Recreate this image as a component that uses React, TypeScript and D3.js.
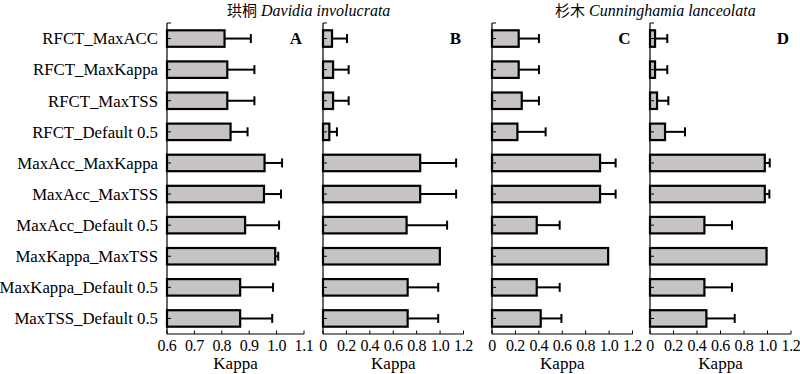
import React from "react";
import * as d3 from "d3";

const categories = [
  "RFCT_MaxACC",
  "RFCT_MaxKappa",
  "RFCT_MaxTSS",
  "RFCT_Default 0.5",
  "MaxAcc_MaxKappa",
  "MaxAcc_MaxTSS",
  "MaxAcc_Default 0.5",
  "MaxKappa_MaxTSS",
  "MaxKappa_Default 0.5",
  "MaxTSS_Default 0.5",
];

const meanA = [0.81, 0.82, 0.82, 0.832, 0.956, 0.954, 0.885, 0.995, 0.867, 0.867];
const errA = [0.906, 0.919, 0.919, 0.894, 1.02, 1.016, 1.009, 1.006, 0.987, 0.984];
const meanB = [0.077, 0.086, 0.086, 0.054, 0.83, 0.83, 0.714, 0.998, 0.723, 0.723];
const errB = [0.205, 0.219, 0.219, 0.119, 1.137, 1.137, 1.06, 1.0, 0.984, 0.984];
const meanC = [0.228, 0.228, 0.254, 0.217, 0.923, 0.923, 0.382, 0.992, 0.382, 0.416];
const errC = [0.401, 0.401, 0.401, 0.458, 1.056, 1.056, 0.578, 0.992, 0.578, 0.593];
const meanD = [0.043, 0.043, 0.06, 0.128, 0.977, 0.977, 0.463, 0.992, 0.463, 0.48];
const errD = [0.147, 0.147, 0.156, 0.298, 1.019, 1.016, 0.698, 0.992, 0.698, 0.721];

const ticksA = [0.6, 0.7, 0.8, 0.9, 1.0, 1.1];
const ticksB = [0, 0.2, 0.4, 0.6, 0.8, 1.0, 1.2];

const titleLeft = "珙桐";
const titleLeftLatin = "Davidia involucrata";
const titleRight = "杉木";
const titleRightLatin = "Cunninghamia lanceolata";
const xLabel = "Kappa";

const panels = [
  { letter: "A", mean: meanA, err: errA, domain: [0.6, 1.1], ticks: ticksA, x0: 167, x1: 304 },
  { letter: "B", mean: meanB, err: errB, domain: [0, 1.2], ticks: ticksB, x0: 323, x1: 463.5 },
  { letter: "C", mean: meanC, err: errC, domain: [0, 1.2], ticks: ticksB, x0: 492, x1: 632.5 },
  { letter: "D", mean: meanD, err: errD, domain: [0, 1.2], ticks: ticksB, x0: 650, x1: 791 },
];

const SERIF = "Liberation Serif, Times New Roman, serif";
const CJK = "Noto Sans CJK SC, sans-serif";

function fmt(v: number) {
  if (v === 0) return "0";
  return v.toFixed(1);
}

export default function App() {
  const yTop = 23;
  const yBottom = 334;
  const y = d3
    .scaleBand<string>()
    .domain(categories)
    .range([yTop, yBottom])
    .paddingInner(0.47)
    .paddingOuter(0.235);
  const bw = y.bandwidth();

  return (
    <svg width={800} height={374} style={{ position: "absolute", left: 0, top: 0, background: "#fff" }}>
      <rect x={0} y={0} width={800} height={374} fill="#fff" />
      <text x={227} y={16} fontSize={15} fill="#000">
        <tspan fontFamily={CJK}>{titleLeft}</tspan>
        <tspan fontFamily={SERIF} fontStyle="italic" fontSize={16}> {titleLeftLatin}</tspan>
      </text>
      <text x={555} y={16} fontSize={15} fill="#000">
        <tspan fontFamily={CJK}>{titleRight}</tspan>
        <tspan fontFamily={SERIF} fontStyle="italic" fontSize={16}> {titleRightLatin}</tspan>
      </text>
      {categories.map((c) => (
        <text
          key={c}
          x={158}
          y={(y(c) as number) + bw / 2 + 5.8}
          textAnchor="end"
          fontFamily={SERIF}
          fontSize={16.8}
          fill="#000"
        >
          {c}
        </text>
      ))}
      {panels.map((p) => {
        const x = d3.scaleLinear().domain(p.domain).range([p.x0, p.x1]);
        const base = p.domain[0];
        return (
          <g key={p.letter}>
            {categories.map((c, i) => {
              const yc = (y(c) as number) + bw / 2;
              const xe = x(p.err[i]);
              const xm = x(p.mean[i]);
              return (
                <g key={c}>
                  {p.err[i] > p.mean[i] + 0.003 && (
                    <g stroke="#000" strokeWidth={2}>
                      <line x1={xm} x2={xe} y1={yc} y2={yc} />
                      <line x1={xe} x2={xe} y1={yc - 4.5} y2={yc + 4.5} />
                    </g>
                  )}
                  <rect
                    x={x(base)}
                    y={y(c) as number}
                    width={xm - x(base)}
                    height={bw}
                    fill="#c6c2c6"
                    stroke="#000"
                    strokeWidth={2.2}
                  />
                  <line x1={x(base)} x2={x(base) + 4} y1={yc} y2={yc} stroke="#000" strokeWidth={1} />
                </g>
              );
            })}
            <line x1={p.x0} x2={p.x0} y1={yTop} y2={yBottom} stroke="#000" strokeWidth={1.2} />
            <line x1={p.x0} x2={p.x0 + 4} y1={yTop} y2={yTop} stroke="#000" strokeWidth={1} />
            <line x1={p.x0} x2={p.x1} y1={yBottom} y2={yBottom} stroke="#000" strokeWidth={1.2} />
            {p.ticks.map((t, k) => (
              <g key={k}>
                <line x1={x(t)} x2={x(t)} y1={yBottom} y2={yBottom - 3.5} stroke="#000" strokeWidth={1} />
                <text
                  x={x(t)}
                  y={350.5}
                  textAnchor="middle"
                  fontFamily={SERIF}
                  fontSize={16}
                  letterSpacing={-0.4}
                  fill="#000"
                >
                  {fmt(t)}
                </text>
              </g>
            ))}
            <text
              x={(p.x0 + p.x1) / 2}
              y={369}
              textAnchor="middle"
              fontFamily={SERIF}
              fontSize={17}
              fill="#000"
            >
              {xLabel}
            </text>
            <text
              x={p.x1 - 8}
              y={44}
              textAnchor="middle"
              fontFamily={SERIF}
              fontWeight="bold"
              fontSize={17}
              fill="#000"
            >
              {p.letter}
            </text>
          </g>
        );
      })}
    </svg>
  );
}
